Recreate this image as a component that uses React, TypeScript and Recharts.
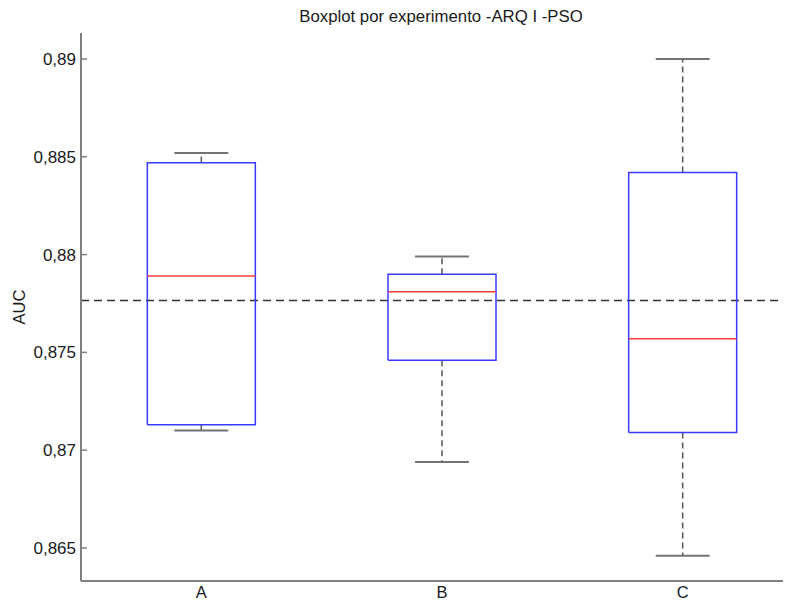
import React from 'react';
import { ComposedChart, Line, XAxis, YAxis, ReferenceLine } from 'recharts';

// ---- data ----
const categories = ['A', 'B', 'C'];
const whiskerMax = [0.8852, 0.8799, 0.89];
const q3 = [0.8847, 0.879, 0.8842];
const median = [0.8789, 0.8781, 0.8757];
const q1 = [0.8713, 0.8746, 0.8709];
const whiskerMin = [0.871, 0.8694, 0.8646];
const referenceValue = 0.87765;
const yTicks = [0.865, 0.87, 0.875, 0.88, 0.885, 0.89];
const yDomain = [0.86331, 0.89133];
const title = 'Boxplot por experimento -ARQ I -PSO';
const yLabel = 'AUC';

// ---- style constants ----
const FONT = '"Liberation Sans", Arial, Helvetica, sans-serif';
const BOX_HALF = 0.2244;
const CAP_HALF = 0.112;
const AXIS_COLOR = '#808080';
const BOX_COLOR = '#3a3aff';
const MEDIAN_COLOR = '#ff3a3a';
const WHISKER_COLOR = '#555555';
const CAP_COLOR = '#737373';

const fmt = (v: number) => String(v).replace('.', ',');

const YTick = (props: any) => {
  const { x, y, payload } = props;
  return (
    <g>
      <line x1={x} x2={x + 6} y1={y} y2={y} stroke={AXIS_COLOR} strokeWidth={1.5} />
      <text x={x - 5} y={y} dy="0.36em" textAnchor="end" fontSize={17} fontFamily={FONT} fill="#1a1a1a">
        {fmt(payload.value)}
      </text>
    </g>
  );
};

const XTick = (props: any) => {
  const { x, y, payload } = props;
  const label = categories[Math.round(payload.value) - 1] ?? '';
  return (
    <text x={x} y={y + 17} textAnchor="middle" fontSize={16.5} fontFamily={FONT} fill="#1a1a1a">
      {label}
    </text>
  );
};

type Pt = { x: number; y: number };

function buildSeries() {
  const out: { key: string; data: Pt[]; stroke: string; width: number; dash?: string }[] = [];
  categories.forEach((_, i) => {
    const c = i + 1;
    out.push({
      key: `uw${i}`,
      data: [{ x: c, y: q3[i] }, { x: c, y: whiskerMax[i] }],
      stroke: WHISKER_COLOR,
      width: 1.5,
      dash: '6 4',
    });
    out.push({
      key: `lw${i}`,
      data: [{ x: c, y: q1[i] }, { x: c, y: whiskerMin[i] }],
      stroke: WHISKER_COLOR,
      width: 1.5,
      dash: '6 4',
    });
    out.push({
      key: `uc${i}`,
      data: [{ x: c - CAP_HALF, y: whiskerMax[i] }, { x: c + CAP_HALF, y: whiskerMax[i] }],
      stroke: CAP_COLOR,
      width: 2,
    });
    out.push({
      key: `lc${i}`,
      data: [{ x: c - CAP_HALF, y: whiskerMin[i] }, { x: c + CAP_HALF, y: whiskerMin[i] }],
      stroke: CAP_COLOR,
      width: 2,
    });
    out.push({
      key: `box${i}`,
      data: [
        { x: c - BOX_HALF, y: q1[i] },
        { x: c - BOX_HALF, y: q3[i] },
        { x: c + BOX_HALF, y: q3[i] },
        { x: c + BOX_HALF, y: q1[i] },
        { x: c - BOX_HALF, y: q1[i] },
      ],
      stroke: BOX_COLOR,
      width: 1.5,
    });
    out.push({
      key: `med${i}`,
      data: [{ x: c - BOX_HALF, y: median[i] }, { x: c + BOX_HALF, y: median[i] }],
      stroke: MEDIAN_COLOR,
      width: 1.5,
    });
  });
  return out;
}

export default function App() {
  const series = buildSeries();
  return (
    <div
      style={{
        position: 'relative',
        marginLeft: -8,
        marginTop: -8,
        width: 791,
        height: 600,
        overflow: 'hidden',
        background: '#ffffff',
      }}
    >
      <ComposedChart width={803} height={600} margin={{ top: 33, right: 0, bottom: 0, left: 0 }}>
        <XAxis
          xAxisId="bottom"
          dataKey="x"
          type="number"
          domain={[0.5, 3.5]}
          ticks={[1, 2, 3]}
          allowDataOverflow
          height={19}
          tickSize={0}
          tickMargin={0}
          tickLine={false}
          tick={<XTick />}
          axisLine={{ stroke: AXIS_COLOR, strokeWidth: 2 }}
        />
        <XAxis
          xAxisId="top"
          orientation="top"
          dataKey="x"
          type="number"
          domain={[0.5, 3.5]}
          height={0}
          tick={false}
          tickLine={false}
          axisLine={{ stroke: AXIS_COLOR, strokeWidth: 2 }}
        />
        <YAxis
          type="number"
          domain={yDomain}
          ticks={yTicks}
          allowDataOverflow
          width={81}
          tickSize={0}
          tickMargin={0}
          tickLine={false}
          tick={<YTick />}
          axisLine={{ stroke: AXIS_COLOR, strokeWidth: 2 }}
        />
        <ReferenceLine
          xAxisId="bottom"
          y={referenceValue}
          stroke="#333333"
          strokeWidth={1.5}
          strokeDasharray="8 5"
        />
        {series.map((s) => (
          <Line
            key={s.key}
            xAxisId="bottom"
            data={s.data}
            dataKey="y"
            type="linear"
            stroke={s.stroke}
            strokeWidth={s.width}
            strokeDasharray={s.dash}
            dot={false}
            activeDot={false}
            isAnimationActive={false}
            legendType="none"
          />
        ))}
      </ComposedChart>
      <svg
        width={791}
        height={600}
        style={{ position: 'absolute', left: 0, top: 0, pointerEvents: 'none' }}
      >
        <text x={441} y={21.5} textAnchor="middle" fontSize={16.8} fontFamily={FONT} fill="#1a1a1a">
          {title}
        </text>
        <text
          x={25}
          y={307}
          textAnchor="middle"
          fontSize={16.5}
          fontFamily={FONT}
          fill="#1a1a1a"
          transform="rotate(-90, 25, 307)"
        >
          {yLabel}
        </text>
      </svg>
    </div>
  );
}
